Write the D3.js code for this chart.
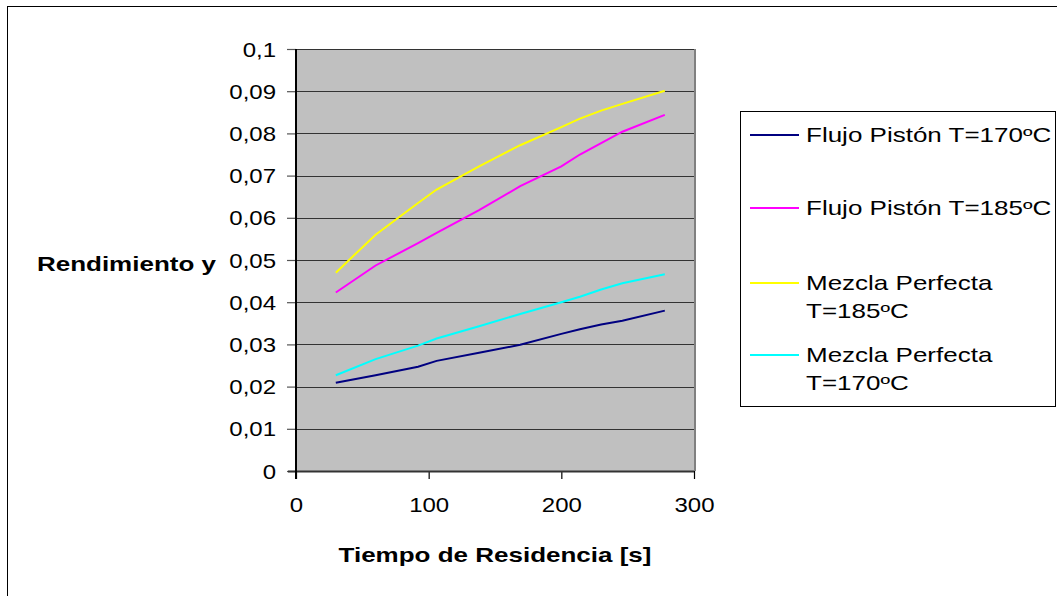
<!DOCTYPE html>
<html>
<head>
<meta charset="utf-8">
<script src="https://cdn.jsdelivr.net/npm/d3@7"></script>
<style>
  body { margin: 0; background: #fff; }
  text { font-family: "Liberation Sans", Arial, sans-serif; fill: #000; }
</style>
</head>
<body>
<script>
// data
var tiempo = [30, 60, 92, 106, 138, 169, 200, 214, 230, 246, 278];
var flujo170 = [0.0209, 0.0227, 0.0247, 0.0261, 0.0280, 0.0299, 0.0325, 0.0336, 0.0347, 0.0356, 0.0380];
var flujo185 = [0.0423, 0.0487, 0.0540, 0.0564, 0.0618, 0.0675, 0.0722, 0.0750, 0.0777, 0.0804, 0.0844];
var mezcla185 = [0.0470, 0.0560, 0.0635, 0.0667, 0.0722, 0.0772, 0.0815, 0.0835, 0.0854, 0.0870, 0.0901];
var mezcla170 = [0.0227, 0.0265, 0.0297, 0.0314, 0.0343, 0.0372, 0.0400, 0.0413, 0.0430, 0.0445, 0.0466];
var seriesNames = [["Flujo Pistón T=170ºC"], ["Flujo Pistón T=185ºC"], ["Mezcla Perfecta", "T=185ºC"], ["Mezcla Perfecta", "T=170ºC"]];
var xTicks = [0, 100, 200, 300];
var yTicks = [0, 0.01, 0.02, 0.03, 0.04, 0.05, 0.06, 0.07, 0.08, 0.09, 0.1];

var series = [flujo170, flujo185, mezcla185, mezcla170];
var colors = ["#000080", "#ff00ff", "#ffff00", "#00ffff"];

var width = 1057, height = 596;
var plot = {left: 296, right: 694, top: 49, bottom: 471};
var stretch = "scale(1.3,1)"; // text in the picture is wide
var tickStretch = "scale(1.2,1)";

var x = d3.scaleLinear().domain([0, 300]).range([plot.left, plot.right]);
var y = d3.scaleLinear().domain([0, 0.1]).range([plot.bottom, plot.top]);

var loc = d3.formatLocale({decimal: ",", thousands: ".", grouping: [3], currency: ["", ""]});
var fmt = loc.format(".2~f");

var svg = d3.select("body").append("svg")
    .attr("width", width)
    .attr("height", height);

// outer chart frame
svg.append("rect")
    .attr("x", 7.5).attr("y", 6.5)
    .attr("width", 1200).attr("height", 800)
    .attr("fill", "none").attr("stroke", "#000");

// plot area
svg.append("rect")
    .attr("x", plot.left).attr("y", plot.top)
    .attr("width", plot.right - plot.left).attr("height", plot.bottom - plot.top)
    .attr("fill", "#c0c0c0");

// gridlines
svg.append("g").selectAll("line")
    .data(yTicks.filter(function(d){ return d > 0; }))
    .enter().append("line")
    .attr("x1", plot.left).attr("x2", plot.right)
    .attr("y1", function(d){ return Math.round(y(d)) + 0.5; })
    .attr("y2", function(d){ return Math.round(y(d)) + 0.5; })
    .attr("stroke", "#333").attr("stroke-width", 1.2);

// right border of plot
svg.append("line")
    .attr("x1", plot.right + 1).attr("x2", plot.right + 1)
    .attr("y1", plot.top).attr("y2", plot.bottom)
    .attr("stroke", "#808080").attr("stroke-width", 2);

// y axis
var yAxis = svg.append("g")
    .attr("transform", "translate(" + plot.left + ",0)")
    .call(d3.axisLeft(y).tickValues(yTicks).tickSize(9).tickFormat(fmt));
yAxis.select(".domain").remove();
yAxis.selectAll(".tick line").attr("stroke", "#555").attr("stroke-width", 1.2);
yAxis.selectAll(".tick text")
    .attr("x", 0).attr("dy", "0.35em")
    .attr("transform", "translate(-20,0) " + tickStretch)
    .style("font-size", "20px").attr("fill", "#000");

// x axis
var xAxis = svg.append("g")
    .attr("transform", "translate(0," + plot.bottom + ")")
    .call(d3.axisBottom(x).tickValues(xTicks).tickSize(8));
xAxis.select(".domain").remove();
xAxis.selectAll(".tick line").attr("stroke", "#000").attr("stroke-width", 1.2);
xAxis.selectAll(".tick text")
    .attr("y", 0).attr("dy", 0)
    .attr("transform", "translate(0,41) " + tickStretch)
    .style("font-size", "20px").attr("fill", "#000");

// axis lines
svg.append("line")
    .attr("x1", plot.left - 8).attr("x2", plot.right)
    .attr("y1", plot.bottom + 0.5).attr("y2", plot.bottom + 0.5)
    .attr("stroke", "#333").attr("stroke-width", 2);
svg.append("line")
    .attr("x1", plot.left).attr("x2", plot.left)
    .attr("y1", plot.top).attr("y2", plot.bottom + 8)
    .attr("stroke", "#000").attr("stroke-width", 2);

// series lines
var line = d3.line()
    .x(function(d, i){ return x(tiempo[i]); })
    .y(function(d){ return y(d); });

svg.append("g").selectAll("path")
    .data(series)
    .enter().append("path")
    .attr("d", line)
    .attr("fill", "none")
    .attr("stroke", function(d, i){ return colors[i]; })
    .attr("stroke-width", 2);

// axis titles
svg.append("text")
    .attr("transform", "translate(216,271) " + stretch)
    .attr("text-anchor", "end")
    .style("font-size", "20px").style("font-weight", "bold")
    .text("Rendimiento y");

svg.append("text")
    .attr("transform", "translate(" + ((plot.left + plot.right) / 2) + ",562) " + stretch)
    .attr("text-anchor", "middle")
    .style("font-size", "20px").style("font-weight", "bold")
    .text("Tiempo de Residencia [s]");

// legend
var legendRowY = [135, 208, 283, 355];
var legend = svg.append("g");
legend.append("rect")
    .attr("x", 740.5).attr("y", 111.5)
    .attr("width", 315).attr("height", 295)
    .attr("fill", "#fff").attr("stroke", "#000");

var entry = legend.selectAll(".entry")
    .data(seriesNames)
    .enter().append("g")
    .attr("class", "entry")
    .attr("transform", function(d, i){ return "translate(0," + legendRowY[i] + ")"; });

entry.append("line")
    .attr("x1", 750).attr("x2", 799)
    .attr("y1", 0).attr("y2", 0)
    .attr("stroke", function(d, i){ return colors[i]; })
    .attr("stroke-width", 2);

entry.each(function(lines){
  var g = d3.select(this);
  lines.forEach(function(t, k){
    g.append("text")
      .attr("transform", "translate(806," + (7 + k * 28) + ") " + stretch)
      .style("font-size", "20px")
      .text(t);
  });
});
</script>
</body>
</html>
